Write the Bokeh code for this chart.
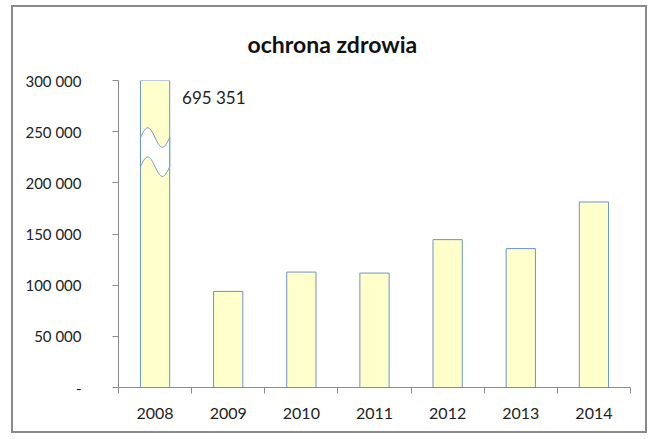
import numpy as np
from bokeh.plotting import figure
from bokeh.models import Range1d, FixedTicker, ColumnDataSource, LinearAxis
from bokeh.core.properties import value
from bokeh.embed import file_html
from bokeh.resources import INLINE

# ---- data ----
TITLE = "ochrona zdrowia"
YEARS = ["2008", "2009", "2010", "2011", "2012", "2013", "2014"]
VALUES = [695351, 93900, 112800, 111800, 144500, 135700, 181300]
Y_TICKS = [0, 50000, 100000, 150000, 200000, 250000, 300000]
Y_TICK_LABELS = ["-", "50 000", "100 000", "150 000", "200 000", "250 000", "300 000"]
Y_MAX = 300000
BREAK_AT = 230000       # value where the axis-break symbol sits on the clipped bar
BREAK_GAP = 28500
BREAK_AMP = 9500

FONT = "Lato"
GRID = "#8c8c8c"
TEXT = "#222222"
BAR_FILL = "#FFFFCC"
BAR_LINE = "#6a93c9"

n = len(YEARS)
centers = [i + 0.5 for i in range(n)]
bounds = list(range(n + 1))
BAR_W = 0.4

p = figure(width=636, height=428, output_backend="svg", toolbar_location=None,
           x_range=Range1d(0, n), y_range=Range1d(0, Y_MAX),
           min_border_left=105, min_border_right=19, min_border_top=73,
           min_border_bottom=48, x_axis_type=None, y_axis_type=None)
p.margin = (5, 0, 0, 11)
p.styles = {"border": "2px solid #8a8a8a"}
p.outline_line_color = None
p.background_fill_color = "white"
p.border_fill_color = "white"

# title
p.title.text = TITLE
p.title.text_font = FONT
p.title.text_font_size = "23px"
p.title.text_font_style = "bold"
p.title.text_color = "#111111"
p.title.align = "left"
p.title.offset = 129
p.title.vertical_align = "top"
p.title.standoff = 42

# axes
yax = LinearAxis(ticker=FixedTicker(ticks=Y_TICKS, minor_ticks=[]))
yax.major_label_overrides = {t: l for t, l in zip(Y_TICKS, Y_TICK_LABELS)}
yax.axis_line_color = GRID
yax.major_tick_line_color = GRID
yax.major_tick_in = 0
yax.major_tick_out = 6
yax.minor_tick_line_color = None
yax.major_label_standoff = 31
yax.major_label_text_font = FONT
yax.major_label_text_font_size = "15px"
yax.major_label_text_color = TEXT
p.add_layout(yax, "left")

xax = LinearAxis(ticker=FixedTicker(ticks=centers, minor_ticks=bounds))
xax.major_label_overrides = {c: y for c, y in zip(centers, YEARS)}
xax.axis_line_color = GRID
xax.major_tick_line_color = None
xax.major_tick_in = 0
xax.major_tick_out = 6
xax.minor_tick_line_color = GRID
xax.minor_tick_in = 0
xax.minor_tick_out = 6
xax.major_label_standoff = 14
xax.major_label_text_font = FONT
xax.major_label_text_font_size = "16px"
xax.major_label_text_color = TEXT
p.add_layout(xax, "below")

p.ygrid.ticker = FixedTicker(ticks=Y_TICKS)
p.ygrid.grid_line_color = GRID
p.ygrid.grid_line_width = 1
p.xgrid.visible = False

src = ColumnDataSource(dict(x=centers, top=VALUES, year=YEARS))
p.vbar(x="x", top="top", width=BAR_W, source=src,
       fill_color=BAR_FILL, line_color=BAR_LINE, line_width=1)

# axis-break symbol on the bar exceeding the axis maximum
for c, v in zip(centers, VALUES):
    if v > Y_MAX:
        t = np.linspace(0, 1, 60)
        xs = c - BAR_W / 2 + t * BAR_W
        wave = BREAK_AMP * np.sin(2 * np.pi * t)
        top = BREAK_AT + BREAK_GAP / 2 + wave
        bot = BREAK_AT - BREAK_GAP / 2 + wave
        p.patch(np.concatenate([xs, xs[::-1]]), np.concatenate([top, bot[::-1]]),
                fill_color="white", line_color=None)
        p.line(xs, top, line_color=BAR_LINE, line_width=1)
        p.line(xs, bot, line_color=BAR_LINE, line_width=1)
        p.segment(x0=[c - BAR_W / 2, c + BAR_W / 2], y0=[bot[0], bot[-1]],
                  x1=[c - BAR_W / 2, c + BAR_W / 2], y1=[top[0], top[-1]],
                  line_color=BAR_LINE, line_width=1)
        p.text(x=[c], y=[Y_MAX], text=[f"{v:,}".replace(",", " ")],
               x_offset=27, y_offset=6, text_align="left", text_baseline="top",
               text_font=value(FONT), text_font_size="17px", text_color=TEXT)

open("out.html", "w").write(file_html(p, INLINE))
